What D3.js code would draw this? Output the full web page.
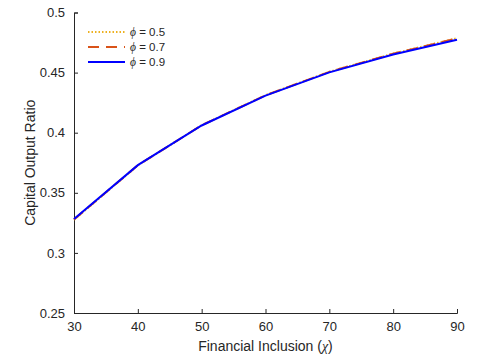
<!DOCTYPE html>
<html><head><meta charset="utf-8">
<script src="https://cdn.jsdelivr.net/npm/d3@7"></script>
<style>body{margin:0;background:#fff;}svg{display:block;}text{font-family:"Liberation Sans",Arial,sans-serif;fill:#262626;}</style>
</head><body><svg id="c" width="478" height="359"></svg>
<script>
const xValues = [30, 40, 50, 60, 70, 80, 90];
const phi05 = [0.3275, 0.3728, 0.4062, 0.4312, 0.4507, 0.4658, 0.4786];
const phi07 = [0.3278, 0.3729, 0.4062, 0.4311, 0.4506, 0.4657, 0.4784];
const phi09 = [0.3282, 0.3730, 0.4060, 0.4308, 0.4502, 0.4650, 0.4774];
const seriesNames = ["\u03D5 = 0.5", "\u03D5 = 0.7", "\u03D5 = 0.9"];
const xTicks = [30, 40, 50, 60, 70, 80, 90];
const yTicks = [0.25, 0.3, 0.35, 0.4, 0.45, 0.5];

const svg = d3.select("#c");
const L = 74, R = 457, T = 12.5, B = 313;
const x = d3.scaleLinear().domain([30, 90]).range([L, R]);
const y = d3.scaleLinear().domain([0.25, 0.5]).range([B, T]);

const xAxis = d3.axisBottom(x).tickValues(xTicks).tickSize(-4).tickPadding(9).tickFormat(d3.format("d"));
const yAxis = d3.axisLeft(y).tickValues(yTicks).tickSize(-4).tickPadding(9).tickFormat(d => String(+d.toFixed(2)));

const gx = svg.append("g").attr("transform", `translate(0,${B})`).call(xAxis);
const gy = svg.append("g").attr("transform", `translate(${L},0)`).call(yAxis);
[gx, gy].forEach(g => {
  g.select(".domain").attr("stroke", "#262626").attr("stroke-width", 1);
  g.selectAll(".tick line").attr("stroke", "#262626").attr("stroke-width", 1);
  g.selectAll(".tick text").attr("font-size", 13).attr("fill", "#262626").attr("font-family", "Liberation Sans, Arial, sans-serif");
});

svg.append("text").attr("x", (L + R) / 2).attr("y", 351).attr("text-anchor", "middle").attr("font-size", 14)
  .html('Financial Inclusion (<tspan font-family="Liberation Serif, Times New Roman, serif" font-style="italic">\u03C7</tspan>)');
svg.append("text").attr("transform", `translate(35,${(T + B) / 2}) rotate(-90)`).attr("text-anchor", "middle").attr("font-size", 14)
  .text("Capital Output Ratio");

const styles = [
  { color: "#EDB120", dash: "1.5,2" },
  { color: "#D95319", dash: "11,7" },
  { color: "#0000FF", dash: null }
];
const data = [phi05, phi07, phi09];
const line = d3.line().x((d, i) => x(xValues[i])).y(d => y(d));
data.forEach((s, k) => {
  svg.append("path").datum(s).attr("d", line).attr("fill", "none")
    .attr("stroke", styles[k].color).attr("stroke-width", 2)
    .attr("stroke-dasharray", styles[k].dash);
});

const lg = svg.append("g");
const rows = [32, 47, 62];
seriesNames.forEach((n, k) => {
  lg.append("line").attr("x1", 88).attr("x2", 125).attr("y1", rows[k]).attr("y2", rows[k])
    .attr("stroke", styles[k].color).attr("stroke-width", 2).attr("stroke-dasharray", styles[k].dash);
  const t = lg.append("text").attr("x", 130).attr("y", rows[k] + 4).attr("font-size", 11.5);
  t.append("tspan").attr("font-family", "Liberation Serif, Times New Roman, serif").attr("font-style", "italic").text(n[0]);
  t.append("tspan").text(n.slice(1));
});
</script></body></html>
